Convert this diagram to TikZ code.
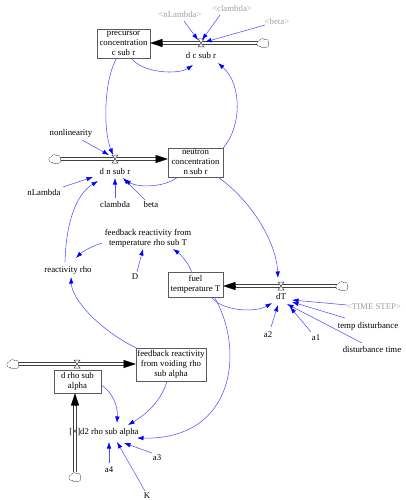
\documentclass[tikz,border=0pt]{standalone}
\usepackage{fontspec}
\setmainfont{Liberation Serif}
\usetikzlibrary{calc,arrows.meta}

\definecolor{linkblue}{RGB}{80,80,255}
\definecolor{stockgray}{RGB}{90,90,90}
\definecolor{shadowgray}{RGB}{160,160,160}

\tikzset{
  every node/.style={font=\fontsize{8.8}{10}\selectfont, inner sep=1pt, align=center},
  stock/.style={draw=stockgray, line width=0.6pt, fill=white},
  ghost/.style={text=shadowgray},
  link/.style={linkblue, line width=0.55pt, -{Latex[length=6.5pt,width=4.5pt,color=blue]}},
  pipe/.style={draw=black!75, line width=0.6pt, double=white, double distance=2.2pt},
  pipehead/.style={black, line width=0.1pt, -{Triangle[length=12pt,width=8pt]}},
  sink/.style={circle, minimum size=10pt, inner sep=0pt, outer sep=0pt},
  valve/.pic={\draw[black!75, fill=white, line width=0.5pt] (-3,-4) -- (3,-4) -- (-3,4) -- (3,4) -- cycle;},
  puff/.pic={
    \foreach \p in {(-3.3,0.6),(-0.6,-1.5),(2.6,-1),(3,1.6),(-0.2,2)}
      \draw[black!75, line width=0.5pt, fill=white] \p circle (2.8);
    \foreach \p in {(-3.3,0.6),(-0.6,-1.5),(2.6,-1),(3,1.6),(-0.2,2)}
      \fill[white] \p circle (2.55);
    \fill[white] (0,0.3) circle (2.8);
  }
}

\begin{document}
\begin{tikzpicture}[x=1pt, y=-1pt]
        \useasboundingbox (0,0) rectangle (406,500);

        % estoques
        \node[stock, minimum width=53pt, minimum height=29pt] (prec) at (123.5,43.5) {precursor\\concentration\\c sub r};
        \node[stock, minimum width=55pt, minimum height=29pt] (neut) at (195.5,162.5) {neutron\\concentration\\n sub r};
        \node[stock, minimum width=55pt, minimum height=25pt] (fuelT) at (195.5,284.5) {fuel\\temperature T};
        \node[stock, minimum width=47pt, minimum height=23pt] (drho) at (77.5,381.5) {d rho sub\\alpha};
        \node[stock, minimum width=70pt, minimum height=33pt] (fbvoid) at (171,364.5) {feedback reactivity\\from voiding rho\\sub alpha};

        % nuvens
        \node[sink] (cl1) at (263,43) {};
        \node[sink] (cl2) at (55,159) {};
        \node[sink] (cl3) at (342,286) {};
        \node[sink] (cl4) at (13,364) {};
        \node[sink] (cl5) at (75,477) {};

        % fluxos
        \coordinate (tip1) at (cl1 -| prec.east);
        \coordinate (tip2) at (cl2 -| neut.west);
        \coordinate (tip3) at (cl3 -| fuelT.east);
        \coordinate (tip4) at (cl4 -| fbvoid.west);
        \coordinate (tip5) at (cl5 |- drho.south);

        \draw[pipe] (cl1.west) -- ($(tip1)+(11,0)$);
        \draw[pipehead] ($(tip1)+(12,0)$) -- (tip1);
        \draw[pipe] (cl2.east) -- ($(tip2)+(-11,0)$);
        \draw[pipehead] ($(tip2)+(-12,0)$) -- (tip2);
        \draw[pipe] (cl3.west) -- ($(tip3)+(11,0)$);
        \draw[pipehead] ($(tip3)+(12,0)$) -- (tip3);
        \draw[pipe] (cl4.east) -- ($(tip4)+(-11,0)$);
        \draw[pipehead] ($(tip4)+(-12,0)$) -- (tip4);
        \draw[pipe] (cl5.north) -- ($(tip5)+(0,11)$);
        \draw[pipehead] ($(tip5)+(0,12)$) -- (tip5);

        \foreach \c in {cl1,cl2,cl3,cl4,cl5}
            \pic at (\c) {puff};

        % valvulas
        \coordinate (vdc) at (201,43);
        \coordinate (vdn) at (115,159);
        \coordinate (vdT) at (281,286);
        \coordinate (vdr) at (77,364);
        \pic at (vdc) {valve};
        \pic at (vdn) {valve};
        \pic at (vdT) {valve};
        \pic at (vdr) {valve};

        \node (dc) at (201,55) {d c sub r};
        \node (dn) at (115,171) {d n sub r};
        \node (dT) at (281,296) {dT};

        % variaveis
        \node[ghost] (nLam2) at (180,14) {<nLambda>};
        \node[ghost] (clam2) at (232,8) {<clambda>};
        \node[ghost] (beta2) at (277,21) {<beta>};
        \node (nonlin) at (71,133) {nonlinearity};
        \node (nLam) at (44,192) {nLambda};
        \node (clam) at (115,204) {clambda};
        \node (beta) at (151,204) {beta};
        \node (fbT) at (148,238) {feedback reactivity from\\temperature rho sub T};
        \node (rho) at (68,270) {reactivity rho};
        \node (D) at (135,277) {D};
        \node[ghost] (tstep) at (374,307) {<TIME STEP>};
        \node (tdist) at (368,326) {temp disturbance};
        \node (a1) at (316,338) {a1};
        \node (a2) at (268,335) {a2};
        \node (dtime) at (372,349) {disturbance time};
        \node (d2) at (104,432) {[×]d2 rho sub alpha};
        \node (a3) at (157,458) {a3};
        \node (a4) at (109,470) {a4};
        \node (K) at (147,496) {K};

        % ligacoes de cima
        \draw[link] ($(nLam2)+(4,7)$) -- ($(vdc)+(-3,-3)$);
        \draw[link] ($(clam2)+(-12,7)$) -- ($(vdc)+(1,-3)$);
        \draw[link] ($(beta2)+(-12,4)$) -- ($(vdc)+(4,-1)$);
        \draw[link] ($(prec.south)+(8,0)$) .. controls (142,73) and (178,75) .. ($(dc)+(-8,10)$);
        \draw[link] (neut.north east) .. controls (241,128) and (243,85) .. ($(dc)+(17,8)$);

        % ligacoes de d n sub r
        \draw[link] ($(prec.south)+(-7,0)$) .. controls (104,80) and (103,130) .. ($(vdn)+(-2,-4)$);
        \draw[link] ($(nonlin)+(11,7)$) -- ($(vdn)+(-6,-4)$);
        \draw[link] ($(nLam)+(19,-5)$) -- ($(dn)+(-22,6)$);
        \draw[link] ($(clam)+(0,-6)$) -- ($(dn)+(0,7)$);
        \draw[link] ($(beta)+(-6,-4)$) -- ($(dn)+(8,7)$);
        \draw[link] ($(neut.south)+(-18,0)$) .. controls (165,187) and (140,188) .. ($(dn)+(9,9)$);
        \draw[link] ($(rho)+(-3,-8)$) .. controls (66,225) and (75,195) .. ($(dn)+(-17,10)$);

        % ligacoes da temperatura
        \draw[link] ($(neut.south east)+(-5,0)$) .. controls (250,200) and (276,240) .. ($(vdT)+(-3,-8)$);
        \draw[link] ($(fbT)+(-46,5)$) .. controls (92,246) and (82,252) .. ($(rho)+(8,-12)$);
        \draw[link] ($(D)+(2,-5)$) -- ($(fbT)+(-5,11)$);
        \draw[link] ($(fuelT.north)+(-4,0)$) .. controls (188,262) and (180,254) .. ($(fbT)+(25,11)$);
        \draw[link] ($(tstep)+(-27,-2)$) -- ($(dT)+(11,4)$);
        \draw[link] ($(tdist)+(-23,-8)$) -- ($(dT)+(11,6)$);
        \draw[link] ($(a1)+(-5,-6)$) -- ($(dT)+(9,11)$);
        \draw[link] ($(dtime)+(-10,-6)$) -- ($(dT)+(6,8)$);
        \draw[link] ($(a2)+(3,-8)$) -- ($(dT)+(-3,9)$);
        \draw[link] ($(fuelT.south)+(16,0)$) .. controls (222,311) and (255,313) .. ($(dT)+(-9,7)$);

        % ligacoes de baixo
        \draw[link] (fbvoid.north west) .. controls (100,330) and (72,300) .. ($(rho)+(3,7)$);
        \draw[link] ($(fuelT.south)+(19,0)$) .. controls (245,350) and (235,440) .. ($(d2)+(33,6)$);
        \draw[link] ($(drho.east)+(0,3.5)$) .. controls (112,392) and (118,405) .. ($(d2)+(13,-9)$);
        \draw[link] ($(fbvoid.south)+(-4,0)$) .. controls (160,405) and (140,418) .. ($(d2)+(24,-7)$);
        \draw[link] ($(a3)+(-5,-5)$) -- ($(d2)+(20,11)$);
        \draw[link] ($(a4)+(0,-7)$) -- ($(d2)+(5,10)$);
        \draw[link] ($(K)+(-2,-5)$) -- ($(d2)+(13,10)$);
    \end{tikzpicture}
\end{document}
